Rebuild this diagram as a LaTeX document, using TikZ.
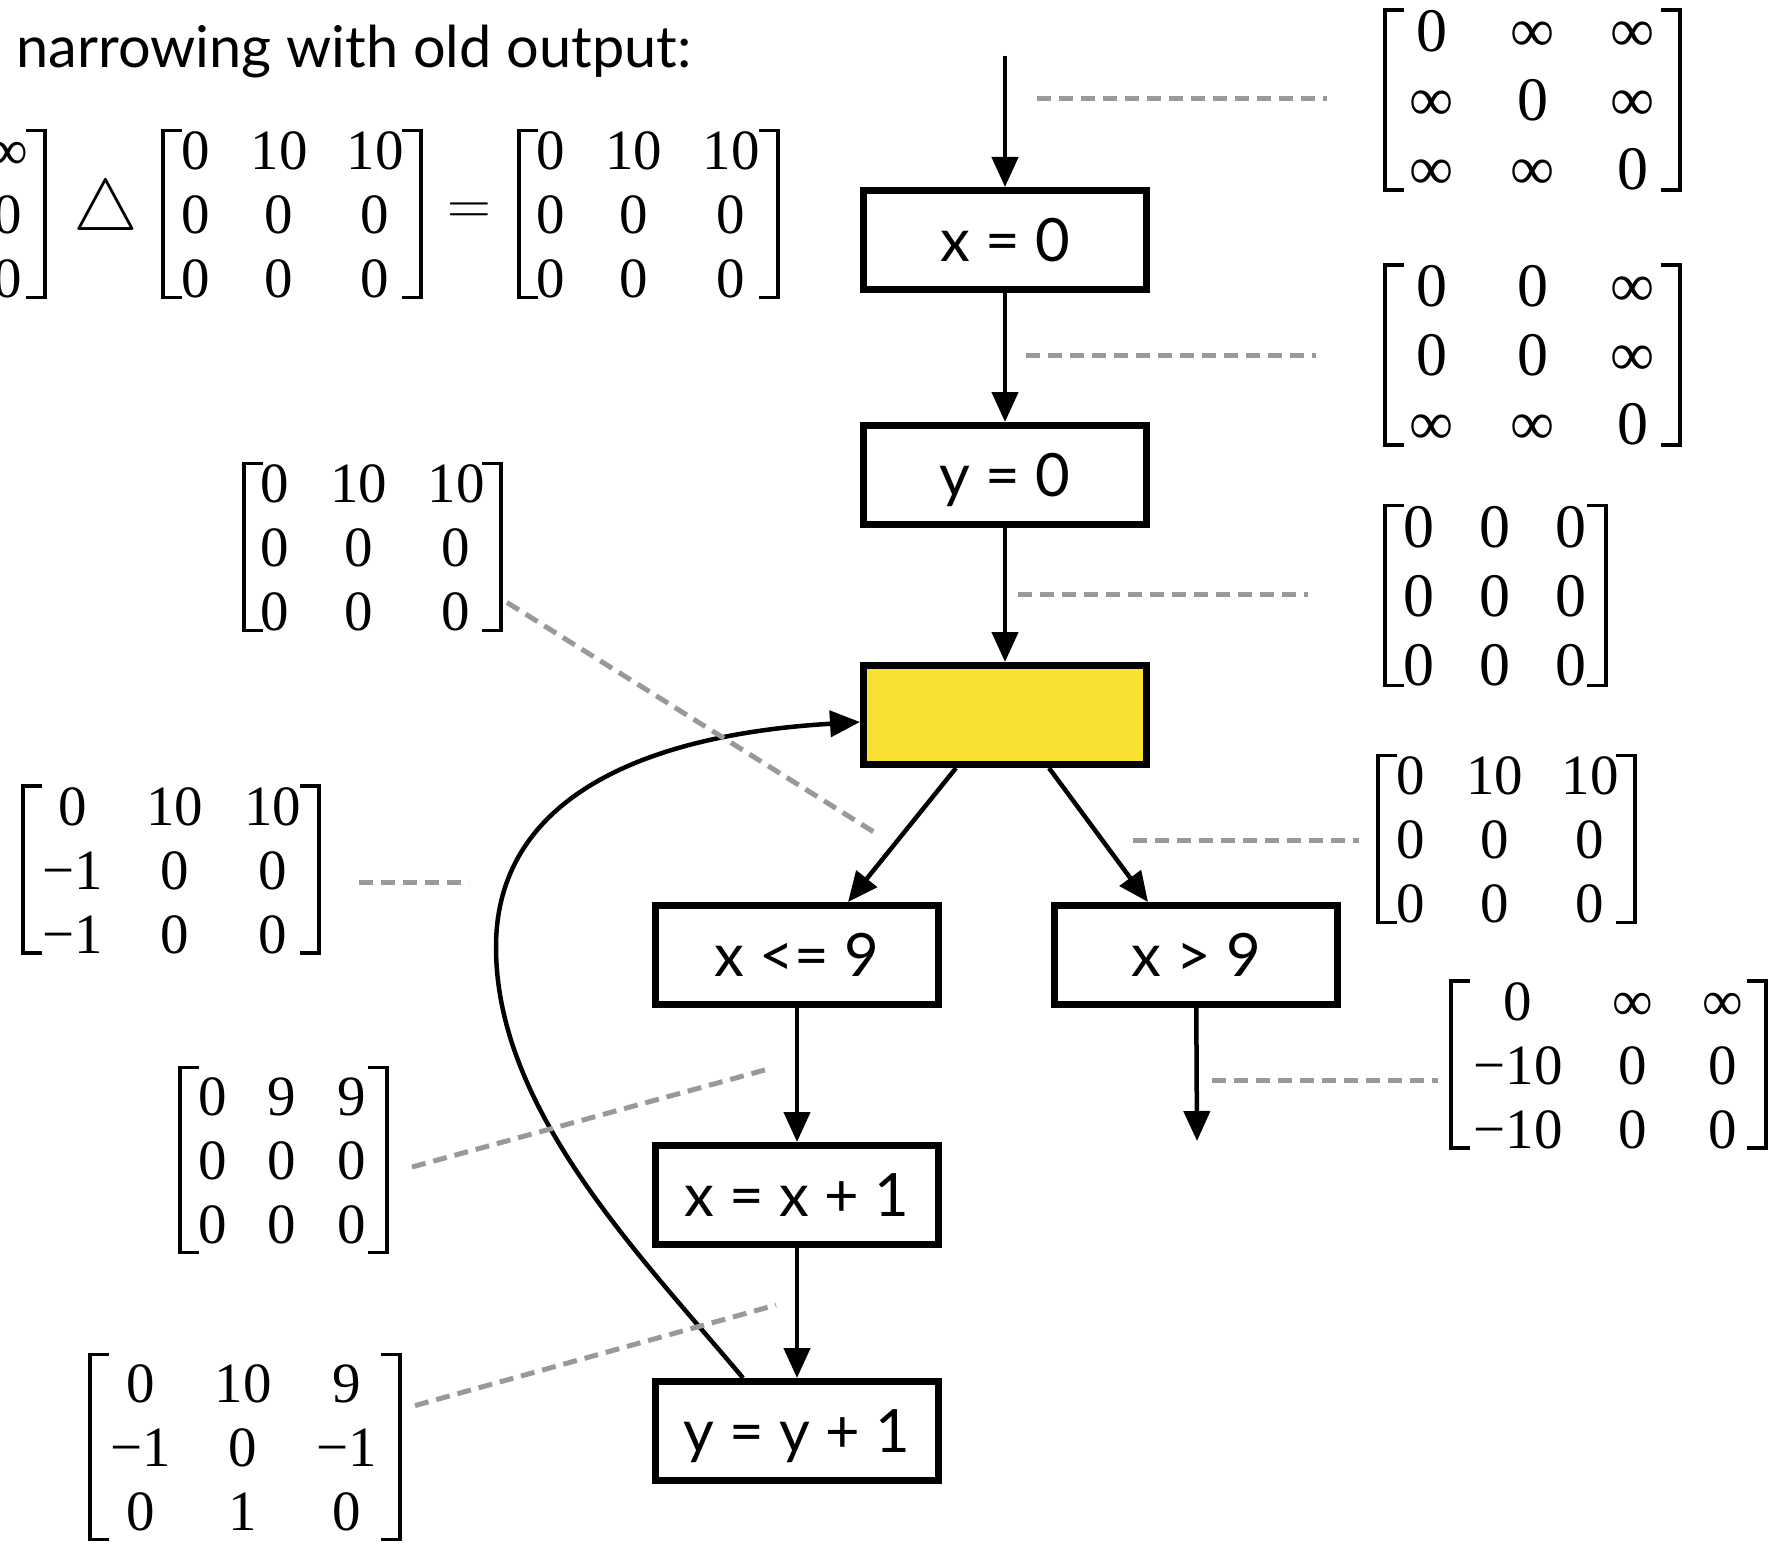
\documentclass[tikz,border=0pt]{standalone}
\usepackage{amsmath}
\usepackage{array}
\usepackage{xcolor}
\usepackage{fontspec}
\setmainfont{Lato}
\newfontfamily\mfont{Liberation Serif}
\usepackage{tikz}
\usetikzlibrary{arrows.meta}

\definecolor{joinyellow}{RGB}{248,225,49}
\definecolor{notegray}{RGB}{153,153,153}

\setlength{\tabcolsep}{0pt}
\newcommand{\mtx}[4]{\begin{tabular}{@{}w{c}{#1}w{c}{#2}w{c}{#3}@{}}#4\end{tabular}}

\begin{document}
\begin{tikzpicture}[x=0.1mm, y=-0.1mm,
		stmt/.style={draw, line width=0.7mm, minimum width=28.3mm, minimum height=9.9mm, inner sep=0pt, text height=4.3mm, text depth=0pt, font=\fontsize{17}{20}\selectfont},
		flow/.style={line width=0.45mm, -{Triangle[length=3mm, width=2.6mm]}},
		note/.style={notegray, line width=0.5mm, dash pattern=on 1.4mm off 0.8mm},
		mat/.style={inner xsep=0pt, inner ysep=-1.25mm, outer sep=0pt, font=\mfont\fontsize{16.2}{18.2}\selectfont,
			append after command={\pgfextra{\draw[line width=0.35mm]
				([shift={(1.9mm,0.7mm)}]\tikzlastnode.north west) -- ([yshift=0.7mm]\tikzlastnode.north west) -- ([yshift=0.7mm]\tikzlastnode.south west) -- ([shift={(1.9mm,0.7mm)}]\tikzlastnode.south west)
				([shift={(-1.9mm,0.7mm)}]\tikzlastnode.north east) -- ([yshift=0.7mm]\tikzlastnode.north east) -- ([yshift=0.7mm]\tikzlastnode.south east) -- ([shift={(-1.9mm,0.7mm)}]\tikzlastnode.south east);}}},
		bigmat/.style={mat, inner ysep=-1.35mm, font=\mfont\fontsize{17.6}{19.6}\selectfont}]
	\useasboundingbox (0,0) rectangle (1768,1543);

	% the narrowing step
	\node[anchor=base west, inner sep=0pt, font=\fontsize{16.4}{19}\selectfont] (title) at (16,68) {narrowing with old output:};
	\node[mat] (prev) at (8,221) {\begin{tabular}{@{}w{c}{7.4mm}@{}}∞\\0\\0\end{tabular}};
	\node[inner sep=0pt, font=\fontsize{19.5}{22}\selectfont] (meet) at (106,212) {$\triangle$};
	\node[mat] (fresh) at (292,221) {\mtx{6.6mm}{10mm}{9.2mm}{0 & 10 & 10\\0 & 0 & 0\\0 & 0 & 0}};
	\node[inner sep=0pt, font=\fontsize{18}{20}\selectfont] (eq) at (469,214) {$=$};
	\node[mat] (result) at (648.5,221) {\mtx{6.4mm}{10.1mm}{9.4mm}{0 & 10 & 10\\0 & 0 & 0\\0 & 0 & 0}};

	% program
	\coordinate (entry) at (1005,56);
	\node[stmt] (x0) at (1005,240) {x = 0};
	\node[stmt] (y0) at (1005,475) {y = 0};
	\node[stmt, fill=joinyellow] (join) at (1005,715) {};
	\node[stmt] (le) at (797,955) {x <= 9};
	\node[stmt] (gt) at (1196,955) {x > 9};
	\node[stmt] (incx) at (797,1195) {x = x + 1};
	\node[stmt] (incy) at (797,1431) {y = y + 1};
	\coordinate (exit) at (1197,1141);

	\draw[flow] (entry) -- (x0);
	\draw[flow] (x0) -- (y0);
	\draw[flow] (y0) -- (join);
	\draw[flow] ([xshift=-4.9mm]join.south) -- ([xshift=5.1mm]le.north);
	\draw[flow] ([xshift=4.4mm]join.south) -- ([xshift=-4.8mm]gt.north);
	\draw[flow] (gt) -- (exit);
	\draw[flow] (le) -- (incx);
	\draw[flow] (incx) -- (incy);
	\draw[flow] ([xshift=-5.4mm]incy.north) .. controls (640,1255) and (496,1110) .. (496,947)
		.. controls (496,800) and (640,735) .. ([yshift=-0.7mm]join.west);

	% states
	\node[bigmat] (s0) at (1532.5,107) {\mtx{9.4mm}{10.7mm}{9.4mm}{0 & ∞ & ∞\\∞ & 0 & ∞\\∞ & ∞ & 0}};
	\node[bigmat] (s1) at (1532.5,362) {\mtx{9.4mm}{10.7mm}{9.4mm}{0 & 0 & ∞\\0 & 0 & ∞\\∞ & ∞ & 0}};
	\node[bigmat] (s2) at (1495.5,602.5) {\mtx{6.8mm}{8.3mm}{7mm}{0 & 0 & 0\\0 & 0 & 0\\0 & 0 & 0}};
	\node[mat] (s3) at (372.5,554) {\mtx{6.2mm}{10.5mm}{9mm}{0 & 10 & 10\\0 & 0 & 0\\0 & 0 & 0}};
	\node[mat] (s4) at (1506.5,846) {\mtx{6.6mm}{10.1mm}{9mm}{0 & 10 & 10\\0 & 0 & 0\\0 & 0 & 0}};
	\node[mat] (s5) at (171,876.5) {\mtx{10mm}{10.4mm}{9.2mm}{0 & 10 & 10\\−1 & 0 & 0\\−1 & 0 & 0}};
	\node[mat] (s6) at (1608.5,1071.5) {\mtx{13.4mm}{9.5mm}{8.6mm}{0 & ∞ & ∞\\−10 & 0 & 0\\−10 & 0 & 0}};
	\node[mat, inner ysep=-0.35mm] (s7) at (283.5,1167) {\mtx{6.6mm}{7.1mm}{7mm}{0 & 9 & 9\\0 & 0 & 0\\0 & 0 & 0}};
	\node[mat, inner ysep=-0.35mm] (s8) at (245,1454) {\mtx{10.2mm}{10.2mm}{10.6mm}{0 & 10 & 9\\−1 & 0 & −1\\0 & 1 & 0}};

	\coordinate (d0) at (1037,99);
	\coordinate (d1) at (1026,355);
	\coordinate (d2) at (1018,594);
	\coordinate (d3) at (877,834);
	\coordinate (d4) at (1133,840);
	\coordinate (d5) at (469,882);
	\coordinate (d6) at (1212,1080);
	\coordinate (d7) at (772,1068);
	\coordinate (d8) at (776,1305);
	\draw[note, shorten >=5.8mm] (d0) -- (d0 -| s0.west);
	\draw[note, shorten >=6.9mm] (d1) -- (d1 -| s1.west);
	\draw[note, shorten >=7.7mm] (d2) -- (d2 -| s2.west);
	\draw[note] ([shift={(6,-35)}]s3.south east) -- (d3);
	\draw[note, shorten >=1.9mm] (d4) -- (d4 -| s4.west);
	\draw[note, shorten <=4mm] (s5.east |- d5) -- (d5);
	\draw[note, shorten >=1.3mm] (d6) -- (d6 -| s6.west);
	\draw[note] ([shift={(25,0)}]s7.east) -- (d7);
	\draw[note] ([shift={(15,44)}]s8.north east) -- (d8);
\end{tikzpicture}
\end{document}
